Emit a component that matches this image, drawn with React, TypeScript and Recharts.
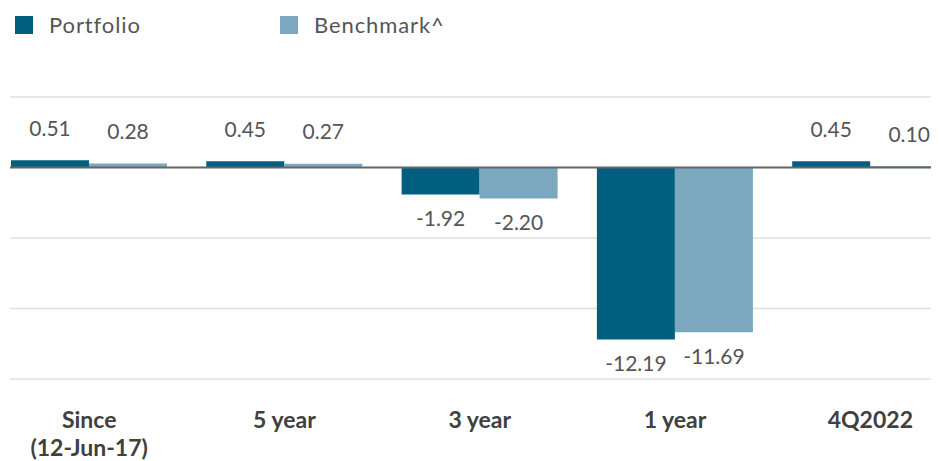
import React from "react";
import { BarChart, Bar, XAxis, YAxis, CartesianGrid, ReferenceLine, LabelList } from "recharts";

const categories = ["Since\n(12-Jun-17)", "5 year", "3 year", "1 year", "4Q2022"];
const portfolioValues = [0.51, 0.45, -1.92, -12.19, 0.45];
const benchmarkValues = [0.28, 0.27, -2.2, -11.69, 0.1];
const yTicks = [-15, -10, -5, 0, 5];
const seriesNames = ["Portfolio", "Benchmark^"];
const seriesColors = ["#005F7F", "#7BA7BF"];

const data = categories.map((c, i) => ({
  name: c,
  portfolio: portfolioValues[i],
  benchmark: benchmarkValues[i],
}));

const FONT = "Lato, 'Noto Sans', sans-serif";

const ValueLabel = (props: any) => {
  const { x, y, width, height, value } = props;
  const top = Math.min(y, y + height);
  const bottom = Math.max(y, y + height);
  const cx = x + width / 2;
  const ty = value >= 0 ? top - 33 : bottom + 23;
  return (
    <text
      x={cx}
      y={ty}
      textAnchor="middle"
      dominantBaseline="central"
      fontFamily={FONT}
      fontSize={21}
      fill="#555555"
    >
      {Number(value).toFixed(2)}
    </text>
  );
};

const CategoryTick = (props: any) => {
  const { x, y, payload } = props;
  const lines = String(payload.value).split("\n");
  return (
    <g>
      {lines.map((l, i) => (
        <text
          key={i}
          x={x}
          y={y + 41 + i * 28}
          textAnchor="middle"
          fontFamily={FONT}
          fontWeight={700}
          fontSize={23}
          fill="#404040"
        >
          {l}
        </text>
      ))}
    </g>
  );
};

export default function App() {
  return (
    <div style={{ position: "relative", width: 931, height: 453, overflow: "hidden" }}>
      <div
        style={{
          position: "absolute",
          top: 3,
          left: 7,
          display: "flex",
          fontFamily: FONT,
          fontSize: 22,
          letterSpacing: 0.9,
          color: "#555555",
          zIndex: 2,
        }}
      >
        {seriesNames.map((n, i) => (
          <div key={n} style={{ display: "flex", alignItems: "center", width: i === 0 ? 265 : 200 }}>
            <span
              style={{
                display: "inline-block",
                width: 18,
                height: 18,
                background: seriesColors[i],
                marginRight: 16,
              }}
            />
            <span>{n}</span>
          </div>
        ))}
      </div>
      <BarChart
        width={960}
        height={453}
        data={data}
        margin={{ top: 89, right: 0, bottom: 22, left: 2 }}
        barCategoryGap={19.5}
        barGap={0}
      >
        <CartesianGrid vertical={false} stroke="#e0e0e0" strokeWidth={1.5} />
        <XAxis
          dataKey="name"
          axisLine={false}
          tickLine={false}
          height={60}
          padding={{ left: -18.5, right: 0 }}
          tick={<CategoryTick />}
          interval={0}
        />
        <YAxis hide domain={[-15, 5]} ticks={yTicks} />
        <Bar dataKey="portfolio" name={seriesNames[0]} fill={seriesColors[0]} isAnimationActive={false}>
          <LabelList dataKey="portfolio" content={<ValueLabel />} />
        </Bar>
        <Bar dataKey="benchmark" name={seriesNames[1]} fill={seriesColors[1]} isAnimationActive={false}>
          <LabelList dataKey="benchmark" content={<ValueLabel />} />
        </Bar>
        <ReferenceLine y={0} stroke="#666666" strokeWidth={2} />
      </BarChart>
    </div>
  );
}
